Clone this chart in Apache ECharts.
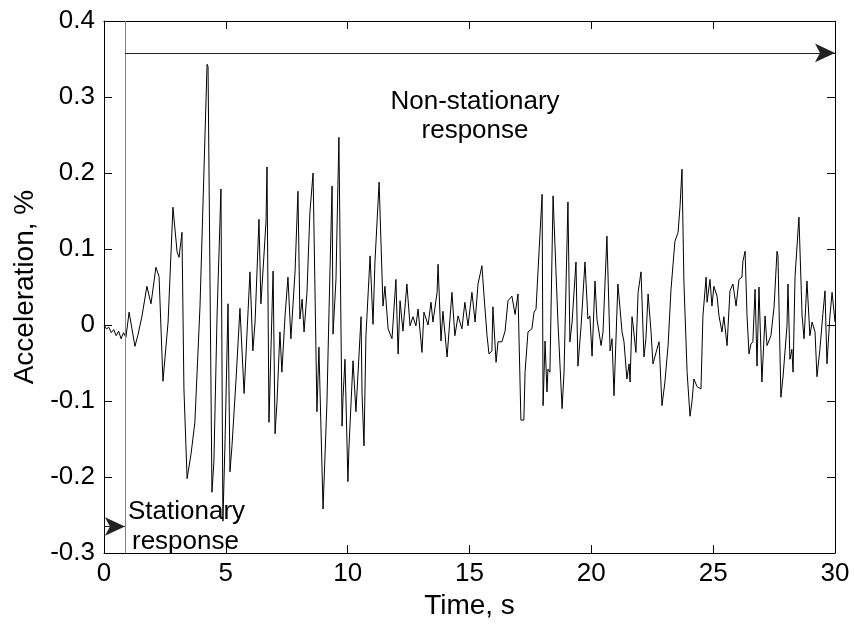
<!DOCTYPE html>
<html>
<head>
<meta charset="utf-8">
<script src="https://cdn.jsdelivr.net/npm/echarts@6/dist/echarts.min.js"></script>
<style>html,body{margin:0;padding:0;background:#fff}#c{width:854px;height:625px}</style>
</head>
<body>
<div id="c"></div>
<script>
var time = [0,0.1,0.2,0.3,0.4,0.5,0.6,0.7,0.8,0.9,1.03,1.27,1.40,1.56,1.76,1.93,2.13,2.26,2.42,2.63,2.83,3.00,3.08,3.20,3.28,3.41,3.57,3.73,3.94,4.23,4.27,4.43,4.51,4.64,4.80,4.88,4.97,5.09,5.17,5.25,5.42,5.58,5.75,5.99,6.11,6.20,6.36,6.44,6.53,6.65,6.69,6.77,6.94,7.02,7.10,7.22,7.30,7.43,7.55,7.67,7.84,7.96,8.04,8.13,8.21,8.33,8.45,8.58,8.62,8.74,8.82,8.99,9.15,9.23,9.36,9.40,9.52,9.64,9.77,9.81,9.89,10.01,10.05,10.22,10.34,10.42,10.55,10.59,10.67,10.75,10.92,11.04,11.12,11.29,11.45,11.53,11.66,11.82,11.98,12.07,12.15,12.27,12.43,12.56,12.68,12.80,12.89,13.05,13.13,13.30,13.42,13.50,13.67,13.71,13.83,13.91,14.08,14.28,14.40,14.53,14.69,14.81,14.94,15.10,15.23,15.35,15.51,15.59,15.72,15.80,15.92,15.96,16.09,16.17,16.33,16.46,16.58,16.74,16.87,16.99,17.11,17.23,17.28,17.40,17.56,17.65,17.73,17.81,17.98,18.02,18.10,18.18,18.22,18.30,18.43,18.55,18.63,18.80,18.88,19.04,19.12,19.21,19.37,19.45,19.58,19.74,19.86,19.94,20.03,20.15,20.23,20.40,20.48,20.64,20.77,20.85,20.93,21.09,21.26,21.34,21.46,21.55,21.59,21.67,21.71,21.83,21.92,22.04,22.16,22.24,22.33,22.45,22.53,22.69,22.78,22.82,22.90,23.02,23.10,23.15,23.27,23.43,23.56,23.64,23.72,23.80,23.93,24.05,24.13,24.21,24.34,24.50,24.58,24.71,24.75,24.87,24.95,25.03,25.16,25.24,25.36,25.44,25.57,25.69,25.81,25.94,26.06,26.18,26.22,26.31,26.39,26.47,26.55,26.63,26.72,26.80,26.88,27.00,27.13,27.21,27.37,27.50,27.62,27.66,27.78,27.87,28.03,28.07,28.15,28.23,28.28,28.36,28.52,28.65,28.73,28.85,28.97,29.06,29.18,29.26,29.38,29.50,29.59,29.67,29.79,29.88,30.0];
var accel = [0,-0.005,-0.003,-0.010,-0.006,-0.014,-0.008,-0.018,-0.010,-0.016,0.017,-0.028,-0.012,0.012,0.051,0.028,0.076,0.064,-0.074,0.004,0.155,0.096,0.089,0.122,-0.084,-0.202,-0.170,-0.128,0.025,0.343,0.340,-0.220,-0.180,0.012,0.179,-0.258,-0.150,0.028,-0.193,-0.160,-0.071,0.022,-0.090,0.070,-0.034,0.004,0.139,0.028,0.074,0.137,0.208,-0.128,0.071,-0.143,-0.101,-0.009,-0.062,0.012,0.063,-0.018,0.070,0.176,0.008,0.034,-0.009,0.043,0.148,0.200,0.198,-0.114,-0.029,-0.242,-0.101,0.012,0.183,-0.012,0.060,0.247,-0.133,-0.095,-0.045,-0.206,-0.163,-0.047,-0.114,-0.114,0.011,-0.090,-0.159,-0.014,0.091,0.001,0.083,0.188,0.025,0.051,-0.005,-0.018,0.060,-0.038,0.032,-0.008,0.054,-0.001,0.011,-0.001,0.021,-0.036,0.017,0.000,0.030,0.004,0.043,0.080,-0.021,0.018,-0.042,0.043,-0.014,0.012,-0.005,0.030,-0.001,0.043,0.004,0.054,0.078,0.041,-0.014,-0.038,-0.034,0.024,-0.049,-0.022,-0.022,-0.008,0.032,0.038,0.014,0.041,-0.125,-0.125,-0.062,-0.009,-0.005,0.017,0.021,0.070,0.172,-0.106,-0.021,-0.088,-0.058,-0.062,0.170,0.070,0.004,-0.110,-0.062,0.162,-0.022,0.004,0.083,-0.054,-0.001,0.083,0.008,0.012,-0.041,0.058,0.008,-0.027,-0.009,0.117,-0.034,-0.018,-0.093,0.054,-0.009,-0.022,-0.071,-0.051,-0.075,0.011,0.001,-0.036,0.043,0.070,-0.042,-0.018,0.041,-0.009,-0.051,-0.032,-0.022,-0.051,-0.106,-0.075,-0.045,-0.027,0.047,0.110,0.122,0.156,0.205,0.056,-0.062,-0.120,-0.101,-0.071,-0.081,-0.084,0.012,0.063,0.030,0.060,0.025,0.051,0.038,0.012,-0.009,0.011,-0.027,0.045,0.054,0.025,0.060,0.063,0.084,0.097,0.012,-0.038,-0.025,-0.022,0.047,-0.054,0.050,-0.075,0.012,-0.027,-0.014,0.024,0.097,0.091,-0.095,-0.067,-0.001,0.054,-0.045,-0.032,-0.062,0.064,0.142,0.012,-0.018,0.058,-0.014,0.004,-0.009,-0.068,-0.032,0.014,0.045,-0.051,0.011,0.043,0.004];
var xTicks = [0,5,10,15,20,25,30];
var yTicks = [-0.3,-0.2,-0.1,0,0.1,0.2,0.3,0.4];
var boundaryTime = 0.86;
var nonStatLevel = 0.358;
var statLevel = -0.265;

var series = time.map(function(t,i){return [t, accel[i]];});
var FONT = 'Liberation Sans, Arial, sans-serif';
var FS = 26;
var NFS = 28;
var chart = echarts.init(document.getElementById('c'), null, {renderer:'canvas'});
function axisCommon(){
  return {
    type:'value',
    axisLine:{show:true, onZero:false, lineStyle:{color:'#000', width:1}},
    axisTick:{show:true, inside:true, length:8, lineStyle:{color:'#000', width:1}},
    splitLine:{show:false},
    axisLabel:{show:true, color:'#000', fontSize:FS, fontFamily:FONT}
  };
}
var xb = axisCommon(); xb.min=xTicks[0]; xb.max=xTicks[xTicks.length-1]; xb.interval=5; xb.position='bottom';
xb.name='Time, s'; xb.nameLocation='middle'; xb.nameGap=33; xb.nameTextStyle={color:'#000', fontSize:NFS, fontFamily:FONT};
xb.axisLabel.margin=8;
var xt = axisCommon(); xt.min=0; xt.max=30; xt.interval=5; xt.position='top'; xt.axisLabel={show:false};
var yl = axisCommon(); yl.min=yTicks[0]; yl.max=yTicks[yTicks.length-1]; yl.interval=0.1; yl.position='left';
yl.name='Acceleration, %'; yl.nameLocation='middle'; yl.nameGap=63; yl.nameTextStyle={color:'#000', fontSize:NFS, fontFamily:FONT};
yl.axisLabel.margin=9; yl.axisLabel.formatter=function(v){var r=Math.round(v*10)/10; return r===0?'0':r.toFixed(1);};
var yr = axisCommon(); yr.min=-0.3; yr.max=0.4; yr.interval=0.1; yr.position='right'; yr.axisLabel={show:false};

chart.setOption({
  animation:false,
  backgroundColor:'#fff',
  grid:{left:104, right:19, top:21, bottom:70, containLabel:false},
  xAxis:[xb, xt],
  yAxis:[yl, yr],
  series:[{
    type:'line', data:series, showSymbol:false, symbol:'none',
    lineStyle:{color:'#000', width:1}, silent:true,
    markLine:{
      silent:true, animation:false,
      label:{show:false},
      data:[
        [{coord:[boundaryTime, -0.3], symbol:'none', lineStyle:{color:'#808080', width:1, type:'solid'}},
         {coord:[boundaryTime, 0.4], symbol:'none'}],
        [{coord:[boundaryTime, nonStatLevel], symbol:'none', lineStyle:{color:'#222', width:1, type:'solid'}},
         {coord:[30, nonStatLevel], symbol:'arrow', symbolSize:[14,20]}],
        [{coord:[0, statLevel], symbol:'none', lineStyle:{color:'#222', width:1, type:'solid'}},
         {coord:[boundaryTime, statLevel], symbol:'arrow', symbolSize:[14,20]}]
      ]
    }
  }],
  graphic:[
    {type:'text', x:475, y:102, silent:true, style:{text:'Non-stationary', fill:'#000', font:FS+'px '+FONT, textAlign:'center', textVerticalAlign:'middle'}},
    {type:'text', x:475, y:131, silent:true, style:{text:'response', fill:'#000', font:FS+'px '+FONT, textAlign:'center', textVerticalAlign:'middle'}},
    {type:'text', x:128, y:512, silent:true, style:{text:'Stationary', fill:'#000', font:FS+'px '+FONT, textAlign:'left', textVerticalAlign:'middle'}},
    {type:'text', x:132, y:542, silent:true, style:{text:'response', fill:'#000', font:FS+'px '+FONT, textAlign:'left', textVerticalAlign:'middle'}}
  ]
});
</script>
</body>
</html>
